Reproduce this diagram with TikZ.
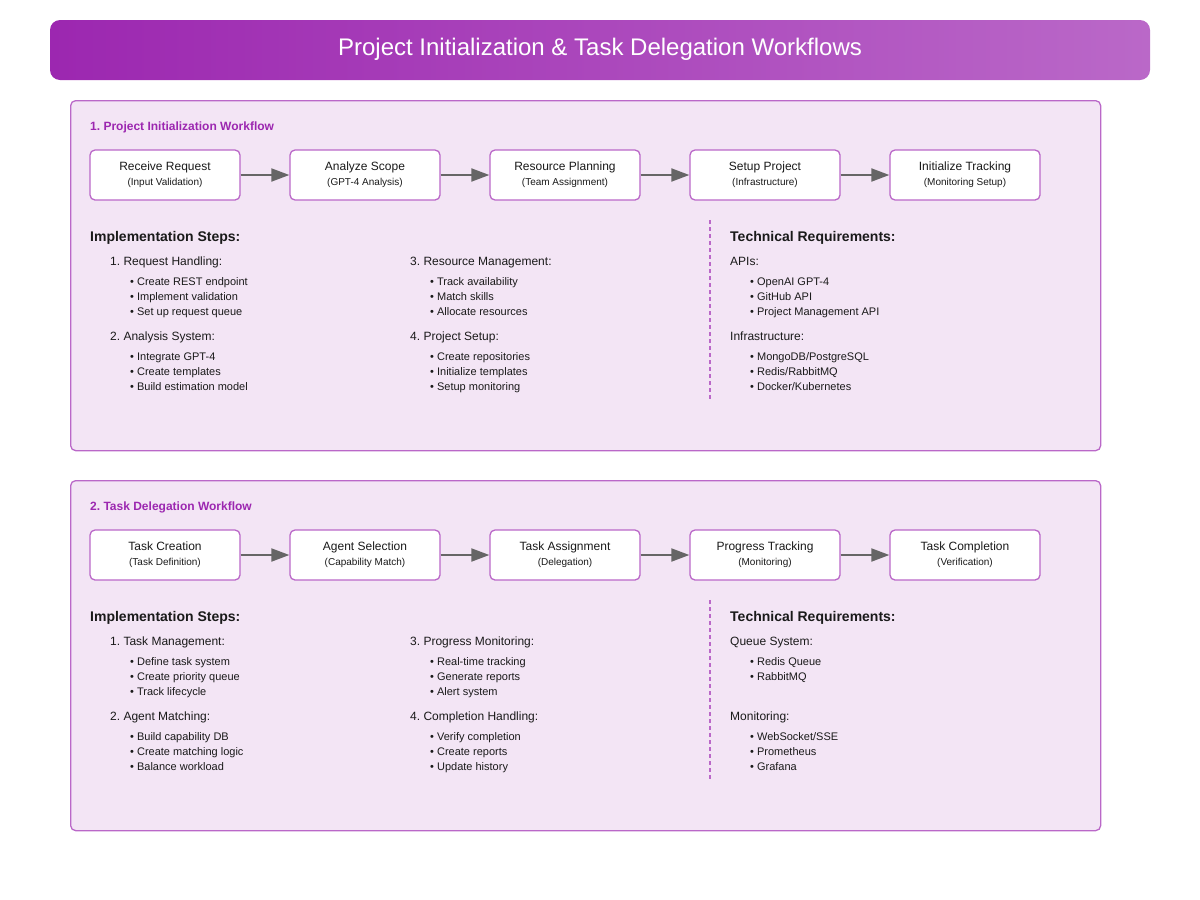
\documentclass[tikz,border=0pt]{standalone}
\usepackage{fontspec}
\setmainfont{Liberation Sans}
\usetikzlibrary{arrows.meta}
\definecolor{purpA}{HTML}{9C27B0}
\definecolor{purpB}{HTML}{BA68C8}
\definecolor{secfill}{HTML}{F3E5F5}
\definecolor{arrowgray}{HTML}{666666}
\definecolor{ink}{HTML}{1A1A1A}
\frenchspacing
\newcounter{tn}
\newcommand\txt[4]{\stepcounter{tn}\node[#1] (txt\arabic{tn}) at (#2,#3) {#4};}
\newcommand\stepnode[5]{%
  \node[stepbox] (#1) at (#2,#3) {};
  \node[boxmain] (#1m) at (#2,#3-5) {#4};
  \node[boxsub] (#1s) at (#2,#3+10) {#5};}
\begin{document}
\begin{tikzpicture}[x=1pt,y=-1pt,
  section/.style={draw=purpB, fill=secfill, line width=1.3pt, rounded corners=5pt, minimum width=1030pt, minimum height=350pt, anchor=north west, inner sep=0pt},
  stepbox/.style={draw=purpB, fill=white, line width=1.3pt, rounded corners=5pt, minimum width=150pt, minimum height=50pt, inner sep=0pt},
  boxmain/.style={anchor=base, inner sep=0pt, text=ink, font=\fontsize{12}{14}\selectfont},
  boxsub/.style={anchor=base, inner sep=0pt, text=ink, font=\fontsize{10}{12}\selectfont},
  flow/.style={draw=arrowgray, line width=2pt, -{Triangle[length=18pt,width=13pt]}},
  sectitle/.style={anchor=base west, inner sep=0pt, text=purpA, font=\bfseries\fontsize{12}{14}\selectfont},
  head/.style={anchor=base west, inner sep=0pt, text=ink, font=\bfseries\fontsize{14}{16}\selectfont},
  item/.style={anchor=base west, inner sep=0pt, text=ink, font=\fontsize{12}{14}\selectfont},
  bul/.style={anchor=base west, inner sep=0pt, text=ink, font=\fontsize{11}{13}\selectfont},
  divider/.style={draw=purpB, line width=2pt, dash pattern=on 4pt off 3pt}
]
\useasboundingbox (0,0) rectangle (1200,900);

% Title banner
\node[minimum width=1100pt, minimum height=60pt, inner sep=0pt, rounded corners=10pt, left color=purpA, right color=purpB, draw=none] (banner) at (600,50) {};
\node[anchor=base, inner sep=0pt, text=white, font=\fontsize{24}{28}\selectfont] (title) at (600,55.5) {Project Initialization \& Task Delegation Workflows};

% ===== Section 1 =====
\node[section] (sec1) at (70,100) {};
\txt{sectitle}{90}{130}{1. Project Initialization Workflow}
\stepnode{a1}{165}{175}{Receive Request}{(Input Validation)}
\stepnode{a2}{365}{175}{Analyze Scope}{(GPT-4 Analysis)}
\stepnode{a3}{565}{175}{Resource Planning}{(Team Assignment)}
\stepnode{a4}{765}{175}{Setup Project}{(Infrastructure)}
\stepnode{a5}{965}{175}{Initialize Tracking}{(Monitoring Setup)}
\draw[flow] (a1) -- (a2);
\draw[flow] (a2) -- (a3);
\draw[flow] (a3) -- (a4);
\draw[flow] (a4) -- (a5);

\txt{head}{90}{241}{Implementation Steps:}
\txt{item}{110}{265}{1. Request Handling:}
\txt{bul}{130}{285}{• Create REST endpoint}
\txt{bul}{130}{300}{• Implement validation}
\txt{bul}{130}{315}{• Set up request queue}
\txt{item}{110}{340}{2. Analysis System:}
\txt{bul}{130}{360}{• Integrate GPT-4}
\txt{bul}{130}{375}{• Create templates}
\txt{bul}{130}{390}{• Build estimation model}

\txt{item}{410}{265}{3. Resource Management:}
\txt{bul}{430}{285}{• Track availability}
\txt{bul}{430}{300}{• Match skills}
\txt{bul}{430}{315}{• Allocate resources}
\txt{item}{410}{340}{4. Project Setup:}
\txt{bul}{430}{360}{• Create repositories}
\txt{bul}{430}{375}{• Initialize templates}
\txt{bul}{430}{390}{• Setup monitoring}

\coordinate (d1a) at (710,220);
\coordinate (d1b) at (710,400);
\draw[divider] (d1a) -- (d1b);

\txt{head}{730}{241}{Technical Requirements:}
\txt{item}{730}{265}{APIs:}
\txt{bul}{750}{285}{• OpenAI GPT-4}
\txt{bul}{750}{300}{• GitHub API}
\txt{bul}{750}{315}{• Project Management API}
\txt{item}{730}{340}{Infrastructure:}
\txt{bul}{750}{360}{• MongoDB/PostgreSQL}
\txt{bul}{750}{375}{• Redis/RabbitMQ}
\txt{bul}{750}{390}{• Docker/Kubernetes}

% ===== Section 2 =====
\node[section] (sec2) at (70,480) {};
\txt{sectitle}{90}{510}{2. Task Delegation Workflow}
\stepnode{b1}{165}{555}{Task Creation}{(Task Definition)}
\stepnode{b2}{365}{555}{Agent Selection}{(Capability Match)}
\stepnode{b3}{565}{555}{Task Assignment}{(Delegation)}
\stepnode{b4}{765}{555}{Progress Tracking}{(Monitoring)}
\stepnode{b5}{965}{555}{Task Completion}{(Verification)}
\draw[flow] (b1) -- (b2);
\draw[flow] (b2) -- (b3);
\draw[flow] (b3) -- (b4);
\draw[flow] (b4) -- (b5);

\txt{head}{90}{621}{Implementation Steps:}
\txt{item}{110}{645}{1. Task Management:}
\txt{bul}{130}{665}{• Define task system}
\txt{bul}{130}{680}{• Create priority queue}
\txt{bul}{130}{695}{• Track lifecycle}
\txt{item}{110}{720}{2. Agent Matching:}
\txt{bul}{130}{740}{• Build capability DB}
\txt{bul}{130}{755}{• Create matching logic}
\txt{bul}{130}{770}{• Balance workload}

\txt{item}{410}{645}{3. Progress Monitoring:}
\txt{bul}{430}{665}{• Real-time tracking}
\txt{bul}{430}{680}{• Generate reports}
\txt{bul}{430}{695}{• Alert system}
\txt{item}{410}{720}{4. Completion Handling:}
\txt{bul}{430}{740}{• Verify completion}
\txt{bul}{430}{755}{• Create reports}
\txt{bul}{430}{770}{• Update history}

\coordinate (d2a) at (710,600);
\coordinate (d2b) at (710,780);
\draw[divider] (d2a) -- (d2b);

\txt{head}{730}{621}{Technical Requirements:}
\txt{item}{730}{645}{Queue System:}
\txt{bul}{750}{665}{• Redis Queue}
\txt{bul}{750}{680}{• RabbitMQ}
\txt{item}{730}{720}{Monitoring:}
\txt{bul}{750}{740}{• WebSocket/SSE}
\txt{bul}{750}{755}{• Prometheus}
\txt{bul}{750}{770}{• Grafana}
\end{tikzpicture}
\end{document}
